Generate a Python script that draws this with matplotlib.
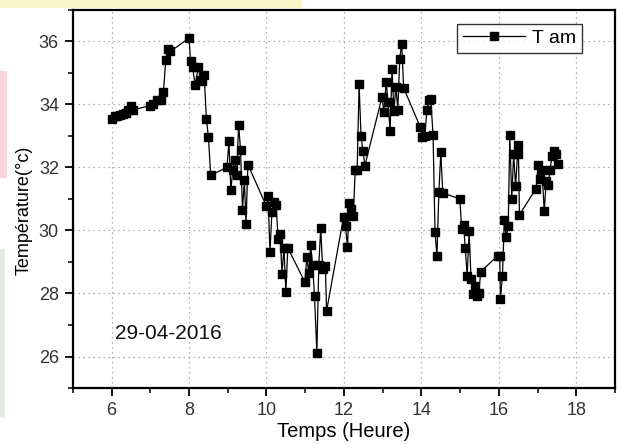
import matplotlib
matplotlib.use("Agg")
import matplotlib.pyplot as plt
from matplotlib.patches import Rectangle
from matplotlib.ticker import MultipleLocator
from matplotlib import font_manager

plt.rcParams['font.family'] = ['Liberation Sans', 'DejaVu Sans']

time_h = [6.0, 6.08, 6.15, 6.23, 6.3, 6.38, 6.42, 6.49, 6.56,
          7.0, 7.07, 7.17, 7.27, 7.34, 7.4, 7.46, 7.52,
          8.0, 8.04, 8.09, 8.16, 8.24, 8.29, 8.34, 8.39, 8.45, 8.5, 8.56,
          8.98, 9.03, 9.08, 9.13, 9.18, 9.23, 9.28, 9.33, 9.38, 9.43, 9.47, 9.52,
          9.99, 10.04, 10.09, 10.14, 10.19, 10.25, 10.3, 10.35, 10.4, 10.45, 10.5, 10.55,
          10.99, 11.04, 11.09, 11.14, 11.19, 11.24, 11.3, 11.35, 11.4, 11.45, 11.52, 11.55,
          11.99, 12.04, 12.09, 12.14, 12.19, 12.24, 12.29, 12.34, 12.39, 12.44, 12.49, 12.54,
          12.98, 13.03, 13.09, 13.14, 13.19, 13.24, 13.29, 13.34, 13.39, 13.44, 13.49, 13.54,
          13.97, 14.02, 14.09, 14.14, 14.19, 14.24, 14.3, 14.35, 14.4, 14.45, 14.5, 14.55,
          14.99, 15.04, 15.09, 15.13, 15.18, 15.23, 15.28, 15.33, 15.38, 15.43, 15.48, 15.53,
          15.97, 16.02, 16.04, 16.09, 16.14, 16.19, 16.24, 16.28, 16.33, 16.38, 16.43, 16.48, 16.5, 16.53,
          16.96, 17.01, 17.06, 17.11, 17.17, 17.22, 17.27, 17.32, 17.37, 17.42, 17.47, 17.52]

t_am = [33.55, 33.62, 33.64, 33.66, 33.68, 33.72, 33.83, 33.94, 33.83,
        33.96, 34.02, 34.15, 34.15, 34.39, 35.42, 35.77, 35.68,
        36.1, 35.37, 35.2, 34.6, 35.2, 34.78, 34.73, 34.94, 33.52, 32.97, 31.75,
        32.0, 32.83, 31.27, 31.93, 32.22, 31.75, 33.36, 32.56, 30.66, 31.61, 30.19, 32.09,
        30.79, 31.08, 29.32, 30.59, 30.9, 30.8, 29.73, 29.89, 28.63, 29.45, 28.04, 29.45,
        28.36, 29.15, 28.65, 29.53, 28.9, 27.91, 26.12, 28.9, 30.07, 28.78, 28.86, 27.44,
        30.43, 30.13, 29.47, 30.87, 30.68, 30.45, 31.91, 31.91, 34.63, 32.99, 32.53, 32.06,
        34.22, 33.76, 34.7, 34.07, 33.15, 35.12, 33.8, 34.55, 33.83, 35.45, 35.93, 34.52,
        33.28, 32.97, 33.01, 33.83, 34.15, 34.17, 33.02, 29.94, 29.2, 31.22, 32.48, 31.19,
        31.0, 30.03, 30.16, 29.45, 28.55, 29.97, 28.46, 27.97, 28.25, 27.93, 28.02, 28.69,
        29.2, 29.2, 27.83, 28.55, 30.34, 29.79, 30.13, 33.04, 31.0, 32.41, 31.4, 32.41, 32.72, 30.5,
        31.33, 32.09, 31.64, 31.93, 30.61, 31.56, 31.45, 31.93, 32.35, 32.51, 32.44, 32.12]

series_label = "T am"
date_label = "29-04-2016"
x_ticks = [6, 8, 10, 12, 14, 16, 18]
y_ticks = [26, 28, 30, 32, 34, 36]

fig = plt.figure(figsize=(6.17, 4.45), dpi=100)
fig.patch.set_facecolor('white')

# faint background artifacts of the scanned source
fig.add_artist(Rectangle((0.0, 0.983), 0.49, 0.017, transform=fig.transFigure,
                         facecolor='#fbf6c8', edgecolor='none', zorder=0))
fig.add_artist(Rectangle((0.0, 0.60), 0.011, 0.24, transform=fig.transFigure,
                         facecolor='#f9d6dc', edgecolor='none', zorder=0))
fig.add_artist(Rectangle((0.0, 0.06), 0.008, 0.38, transform=fig.transFigure,
                         facecolor='#e2eedb', edgecolor='none', zorder=0))

ax = fig.add_axes([0.118, 0.128, 0.879, 0.850])
ax.plot(time_h, t_am, color='black', lw=0.9, marker='s', markersize=6.3,
        markerfacecolor='black', markeredgecolor='black', label=series_label)

ax.set_xlim(5, 19)
ax.set_ylim(25, 37)
ax.set_xticks(x_ticks)
ax.set_yticks(y_ticks)
ax.xaxis.set_minor_locator(MultipleLocator(1))
ax.yaxis.set_minor_locator(MultipleLocator(1))
ax.tick_params(which='major', direction='out', length=6, width=1.3, labelsize=13,
               labelcolor='#333333', pad=4)
ax.tick_params(which='minor', direction='out', length=3.5, width=1.1)
for s in ax.spines.values():
    s.set_linewidth(1.6)
ax.grid(True, which='major', color='#999999', linestyle=(0, (1, 3)), linewidth=0.9)

ax.set_xlabel("Temps (Heure)", fontsize=14.5, labelpad=2)
ax.set_ylabel("Température(°c)", fontsize=13)
ax.yaxis.set_label_coords(-0.074, 0.47)

ax.text(6.1, 26.55, date_label, fontsize=15, color='#111111')

leg = ax.legend(loc='upper right', bbox_to_anchor=(0.939, 0.963), fontsize=14,
                frameon=True, fancybox=False, handlelength=3.2, borderpad=0.3,
                handletextpad=0.35, borderaxespad=0.0)
leg.get_frame().set_edgecolor('black')
leg.get_frame().set_linewidth(1.0)

fig.savefig("out.png", dpi=100)
